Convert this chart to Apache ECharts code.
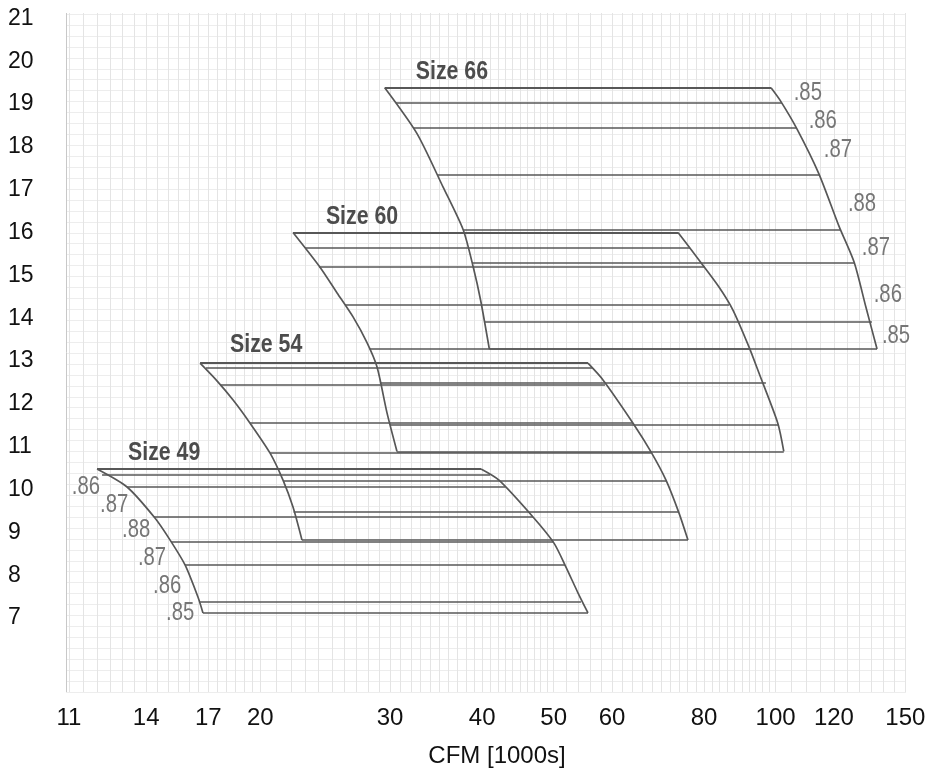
<!DOCTYPE html>
<html><head><meta charset="utf-8">
<script src="https://cdn.jsdelivr.net/npm/echarts@6/dist/echarts.min.js"></script>
<style>html,body{margin:0;padding:0;background:#fff}#c{width:936px;height:769px}</style>
</head><body><div id="c"></div>
<script>
// ---------- data (CFM in 1000s, vertical value) ----------
const xTickLabels = [11, 14, 17, 20, 30, 40, 50, 60, 80, 100, 120, 150];
const yTickLabels = [7, 8, 9, 10, 11, 12, 13, 14, 15, 16, 17, 18, 19, 20, 21];

// boundary curves: [cfm, value]
const s49Left  = [[12.01,10.48],[13.19,10.06],[14.40,9.33],[15.09,8.82],[15.81,8.24],[16.46,7.49],[16.72,7.12]];
const s49Right = [[39.85,10.48],[42.15,10.22],[46.88,9.36],[50.05,8.75],[51.96,8.19],[53.94,7.59],[55.66,7.12]];
const s54Left  = [[16.57,12.95],[17.42,12.56],[18.37,12.09],[19.37,11.55],[20.62,10.85],[21.47,10.22],[22.15,9.59],[22.78,8.82]];
const s54Right = [[55.66,12.95],[58.33,12.56],[64.07,11.55],[67.77,10.88],[71.02,10.22],[73.97,9.45],[76.06,8.82]];
const s60Left  = [[22.15,16.00],[24.10,15.19],[25.42,14.59],[26.72,14.03],[27.91,13.43],[28.80,12.86],[29.71,11.79],[30.65,10.89]];
const s60Right = [[73.74,16.00],[78.72,15.36],[83.80,14.73],[87.54,14.19],[92.03,13.33],[94.95,12.72],[100.7,11.55],[102.6,10.89]];
const s66Left  = [[29.5,19.38],[32.6,18.32],[35.4,17.06],[37.7,16.06],[38.9,15.19],[39.8,14.42],[40.9,13.28]];
const s66Right = [[98.6,19.38],[101.4,19.09],[106.9,18.42],[114.5,17.37],[121.9,16.15],[127.8,15.31],[132.6,14.26],[137.3,13.28]];

// horizontal lines: [value, cfmStart, cfmEnd]
const s49Lines = [[10.48,12.01,39.85],[10.34,12.20,40.99],[10.06,13.19,43.0],[9.36,14.35,46.88],[8.78,15.13,49.97],[8.24,15.81,51.80],[7.38,16.57,54.45],[7.12,16.72,55.66]];
const s54Lines = [[12.95,16.57,55.66],[12.84,16.88,56.53],[12.45,17.64,58.70],[11.55,19.37,64.07],[10.85,20.62,67.77],[10.20,21.47,71.02],[9.48,22.19,73.86],[8.82,22.78,76.06]];
const s60Lines = [[16.00,22.15,73.74],[15.64,23.0,76.54],[15.21,24.03,80.2],[14.31,26.06,86.46],[13.28,28.13,92.2],[12.49,29.11,97.03],[11.51,29.99,101.1],[10.89,30.65,102.6]];
const s66Lines = [[19.38,29.5,98.6],[19.02,30.55,102.0],[18.44,32.27,106.6],[17.34,34.73,114.7],[16.06,37.7,122.3],[15.29,38.74,127.8],[13.91,40.3,135.1],[13.28,40.9,137.3]];

// text annotations: [text, cfm, value]
const eff66 = [['.85',110.6,19.26],['.86',115.9,18.60],['.87',121.5,17.93],['.88',131.0,16.67],['.87',136.8,15.64],['.86',142.0,14.54],['.85',145.7,13.58]];
const eff49 = [['.86',11.60,10.06],['.87',12.67,9.64],['.88',13.57,9.06],['.87',14.26,8.40],['.86',14.95,7.75],['.85',15.57,7.12]];
const sizeLabels = [['Size 49',14.81,10.85],['Size 54',20.37,13.37],['Size 60',27.48,16.36],['Size 66',36.39,19.75]];

// ---------- axis extents / graph paper ----------
const X_MIN = 10.9, X_MAX = 150.3, Y_MIN = 5.274, Y_MAX = 21.125;
const lg = Math.log10;

function range(a, b, s) { const r = []; for (let v = a; v <= b + 1e-9; v += s) r.push(+v.toFixed(4)); return r; }
const paperMajorX = [X_MIN].concat(range(11, 20, 1), range(25, 50, 5), range(60, 100, 10), range(110, 150, 10)).map(lg);
const paperFineX = [].concat(range(11, 20, 0.5), range(20, 50, 1), range(50, 100, 2), range(100, 150, 5)).map(lg);
const PAPER_STEP = 0.5105;
const paperMajorY = range(Y_MIN, Y_MAX, PAPER_STEP);
const paperFineY = range(Y_MIN, Y_MAX, PAPER_STEP / 2);

const LINE = '#575757';
const SANS = '"Liberation Sans",Arial,sans-serif';

function curve(pts) {
  return { type: 'line', data: pts.map(p => [lg(p[0]), p[1]]), smooth: 0.25, symbol: 'none',
    lineStyle: { color: LINE, width: 1.7 }, silent: true, z: 3 };
}
function hlines(ls) {
  return { type: 'lines', coordinateSystem: 'cartesian2d', polyline: false,
    data: ls.map((l, i) => ({ coords: [[lg(l[1]), l[0]], [lg(l[2]), l[0]]],
      lineStyle: { width: i === 0 ? 2.2 : 1.5 } })),
    lineStyle: { color: LINE, width: 1.5, opacity: 1 }, silent: true, z: 3 };
}
// condensed text annotations drawn through the cartesian coordinate system
function texts(arr, st) {
  return { type: 'custom', coordinateSystem: 'cartesian2d', silent: true, z: 4,
    data: arr.map(t => [lg(t[1]), t[2]]),
    renderItem: (params, api) => {
      const p = api.coord([api.value(0), api.value(1)]);
      return { type: 'text', x: p[0], y: p[1], scaleX: st.scaleX,
        style: { text: arr[params.dataIndex][0], fill: st.color, fontSize: st.fontSize,
          fontWeight: st.fontWeight || 'normal', fontFamily: SANS, align: 'center', verticalAlign: 'middle' } };
    } };
}

const hiddenAxis = (vals, color, isX) => ({
  type: 'value', min: isX ? lg(X_MIN) : Y_MIN, max: isX ? lg(X_MAX) : Y_MAX,
  axisLine: { show: false }, axisLabel: { show: false },
  axisTick: { show: false, customValues: vals },
  splitLine: { show: true, lineStyle: { color: color, width: 1 } }
});

const series = [];
[[s49Left, s49Right, s49Lines], [s54Left, s54Right, s54Lines], [s60Left, s60Right, s60Lines], [s66Left, s66Right, s66Lines]]
  .forEach(e => { series.push(curve(e[0]), curve(e[1]), hlines(e[2])); });
const effStyle = { color: '#767676', fontSize: 26, scaleX: 0.78 };
series.push(texts(eff66, effStyle), texts(eff49, effStyle));
series.push(texts(sizeLabels, { color: '#4c4c4c', fontSize: 26, fontWeight: 'bold', scaleX: 0.82 }));

const chart = echarts.init(document.getElementById('c'), null, { renderer: 'canvas' });
chart.setOption({
  animation: false,
  backgroundColor: '#ffffff',
  grid: { left: 66, right: 30, top: 13, bottom: 77, containLabel: false, outerBoundsMode: 'none' },
  xAxis: [
    { type: 'value', min: lg(X_MIN), max: lg(X_MAX), position: 'bottom',
      axisLine: { show: false }, splitLine: { show: false },
      axisTick: { show: false, customValues: xTickLabels.map(lg) },
      axisLabel: { customValues: xTickLabels.map(lg), formatter: v => String(Math.round(Math.pow(10, v))),
        color: '#111', fontSize: 24, margin: 14, fontFamily: SANS },
      name: 'CFM [1000s]', nameLocation: 'middle', nameGap: 52,
      nameTextStyle: { color: '#111', fontSize: 24, fontFamily: SANS, padding: [0, 0, 0, 22] } },
    hiddenAxis(paperMajorX, '#c8c8c8', true),
    hiddenAxis(paperFineX, '#e4e4e4', true)
  ],
  yAxis: [
    { type: 'value', min: Y_MIN, max: Y_MAX,
      axisLine: { show: false }, splitLine: { show: false },
      axisTick: { show: false, customValues: yTickLabels },
      axisLabel: { customValues: yTickLabels, color: '#111', fontSize: 23, align: 'left', margin: 58,
        fontFamily: SANS } },
    hiddenAxis(paperMajorY, '#cdcdcd', false),
    hiddenAxis(paperFineY, '#ededed', false)
  ],
  series: series
});
</script></body></html>
